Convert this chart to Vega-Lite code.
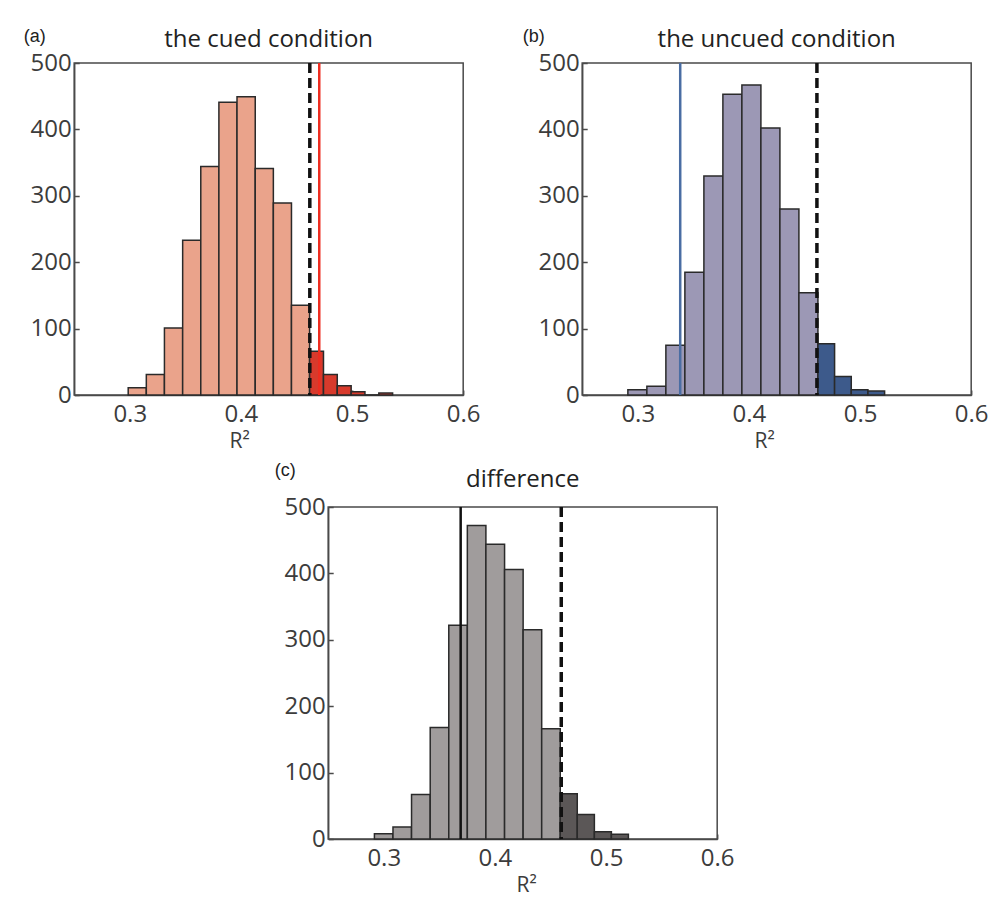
{
  "$schema": "https://vega.github.io/schema/vega-lite/v6.json",
  "background": "white",
  "padding": {"left": 22, "top": 26, "right": 5, "bottom": 5},
  "datasets": {
    "bars": [
      {"panel": "a", "part": "a-main", "lo": 0.2986, "hi": 0.3149, "count": 11},
      {"panel": "a", "part": "a-main", "lo": 0.3149, "hi": 0.3312, "count": 31},
      {"panel": "a", "part": "a-main", "lo": 0.3312, "hi": 0.3476, "count": 101},
      {"panel": "a", "part": "a-main", "lo": 0.3476, "hi": 0.3639, "count": 233},
      {"panel": "a", "part": "a-main", "lo": 0.3639, "hi": 0.3802, "count": 344},
      {"panel": "a", "part": "a-main", "lo": 0.3802, "hi": 0.3965, "count": 441},
      {"panel": "a", "part": "a-main", "lo": 0.3965, "hi": 0.4129, "count": 449},
      {"panel": "a", "part": "a-main", "lo": 0.4129, "hi": 0.4292, "count": 341},
      {"panel": "a", "part": "a-main", "lo": 0.4292, "hi": 0.4455, "count": 289},
      {"panel": "a", "part": "a-main", "lo": 0.4455, "hi": 0.4618, "count": 135},
      {"panel": "a", "part": "a-tail", "lo": 0.4618, "hi": 0.4743, "count": 66},
      {"panel": "a", "part": "a-tail", "lo": 0.4743, "hi": 0.4867, "count": 31},
      {"panel": "a", "part": "a-tail", "lo": 0.4867, "hi": 0.4992, "count": 14},
      {"panel": "a", "part": "a-tail", "lo": 0.4992, "hi": 0.5116, "count": 5},
      {"panel": "a", "part": "a-tail", "lo": 0.5116, "hi": 0.5241, "count": 0},
      {"panel": "a", "part": "a-tail", "lo": 0.5241, "hi": 0.5365, "count": 3},
      {"panel": "b", "part": "b-main", "lo": 0.2911, "hi": 0.3082, "count": 8},
      {"panel": "b", "part": "b-main", "lo": 0.3082, "hi": 0.3253, "count": 13},
      {"panel": "b", "part": "b-main", "lo": 0.3253, "hi": 0.3424, "count": 75},
      {"panel": "b", "part": "b-main", "lo": 0.3424, "hi": 0.3595, "count": 185},
      {"panel": "b", "part": "b-main", "lo": 0.3595, "hi": 0.3766, "count": 330},
      {"panel": "b", "part": "b-main", "lo": 0.3766, "hi": 0.3937, "count": 453},
      {"panel": "b", "part": "b-main", "lo": 0.3937, "hi": 0.4108, "count": 467},
      {"panel": "b", "part": "b-main", "lo": 0.4108, "hi": 0.4279, "count": 402},
      {"panel": "b", "part": "b-main", "lo": 0.4279, "hi": 0.4450, "count": 280},
      {"panel": "b", "part": "b-main", "lo": 0.4450, "hi": 0.4621, "count": 154},
      {"panel": "b", "part": "b-tail", "lo": 0.4621, "hi": 0.4771, "count": 77},
      {"panel": "b", "part": "b-tail", "lo": 0.4771, "hi": 0.4921, "count": 28},
      {"panel": "b", "part": "b-tail", "lo": 0.4921, "hi": 0.5071, "count": 8},
      {"panel": "b", "part": "b-tail", "lo": 0.5071, "hi": 0.5221, "count": 6},
      {"panel": "c", "part": "c-main", "lo": 0.2916, "hi": 0.3083, "count": 8},
      {"panel": "c", "part": "c-main", "lo": 0.3083, "hi": 0.3250, "count": 18},
      {"panel": "c", "part": "c-main", "lo": 0.3250, "hi": 0.3418, "count": 67},
      {"panel": "c", "part": "c-main", "lo": 0.3418, "hi": 0.3585, "count": 168},
      {"panel": "c", "part": "c-main", "lo": 0.3585, "hi": 0.3752, "count": 322},
      {"panel": "c", "part": "c-main", "lo": 0.3752, "hi": 0.3919, "count": 472},
      {"panel": "c", "part": "c-main", "lo": 0.3919, "hi": 0.4087, "count": 444},
      {"panel": "c", "part": "c-main", "lo": 0.4087, "hi": 0.4254, "count": 406},
      {"panel": "c", "part": "c-main", "lo": 0.4254, "hi": 0.4421, "count": 315},
      {"panel": "c", "part": "c-main", "lo": 0.4421, "hi": 0.4588, "count": 166},
      {"panel": "c", "part": "c-tail", "lo": 0.4588, "hi": 0.4741, "count": 68},
      {"panel": "c", "part": "c-tail", "lo": 0.4741, "hi": 0.4895, "count": 37},
      {"panel": "c", "part": "c-tail", "lo": 0.4895, "hi": 0.5048, "count": 11},
      {"panel": "c", "part": "c-tail", "lo": 0.5048, "hi": 0.5201, "count": 7}
    ],
    "lines": [
      {"panel": "a", "kind": "threshold", "r2": 0.462},
      {"panel": "a", "kind": "observed", "r2": 0.4705},
      {"panel": "b", "kind": "threshold", "r2": 0.4612},
      {"panel": "b", "kind": "observed", "r2": 0.3382},
      {"panel": "c", "kind": "threshold", "r2": 0.4597},
      {"panel": "c", "kind": "observed", "r2": 0.3692}
    ]
  },
  "vconcat": [
    {
      "hconcat": [
        {
          "width": 389, "height": 332,
          "title": {"text": "the cued condition"},
          "layer": [
            {
              "data": {"name": "bars"},
              "transform": [{"filter": "datum.panel === 'a'"}],
              "mark": {"type": "bar", "stroke": "#2a2a2a", "strokeWidth": 1.5},
              "encoding": {
                "x": {"field": "lo", "type": "quantitative", "scale": {"domain": [0.25, 0.6], "nice": false, "zero": false}, "axis": {"title": "R²", "values": [0.3, 0.4, 0.5, 0.6], "format": ".1f", "titleX": 165}},
                "x2": {"field": "hi"},
                "y": {"field": "count", "type": "quantitative", "scale": {"domain": [0, 500], "nice": false}, "axis": {"title": "(a)", "values": [0, 100, 200, 300, 400, 500], "titleX": -51, "titleY": -27}},
                "y2": {"datum": 0},
                "color": {"field": "part", "type": "nominal", "legend": null, "scale": {"domain": ["a-main", "a-tail", "b-main", "b-tail", "c-main", "c-tail"], "range": ["#EAA38B", "#D83A2C", "#9C98B5", "#3D5A8B", "#A09C9C", "#5B5757"]}}
              }
            },
            {
              "data": {"name": "lines"},
              "transform": [{"filter": "datum.panel === 'a' && datum.kind === 'threshold'"}],
              "mark": {"type": "rule", "color": "#111111", "strokeWidth": 3.5, "strokeDash": [10, 5]},
              "encoding": {"x": {"field": "r2", "type": "quantitative"}}
            },
            {
              "data": {"name": "lines"},
              "transform": [{"filter": "datum.panel === 'a' && datum.kind === 'observed'"}],
              "mark": {"type": "rule", "color": "#EE2D20", "strokeWidth": 2.5},
              "encoding": {"x": {"field": "r2", "type": "quantitative"}}
            }
          ]
        },
        {
          "width": 389, "height": 332,
          "title": {"text": "the uncued condition"},
          "layer": [
            {
              "data": {"name": "bars"},
              "transform": [{"filter": "datum.panel === 'b'"}],
              "mark": {"type": "bar", "stroke": "#2a2a2a", "strokeWidth": 1.5},
              "encoding": {
                "x": {"field": "lo", "type": "quantitative", "scale": {"domain": [0.25, 0.6], "nice": false, "zero": false}, "axis": {"title": "R²", "values": [0.3, 0.4, 0.5, 0.6], "format": ".1f", "titleX": 182}},
                "x2": {"field": "hi"},
                "y": {"field": "count", "type": "quantitative", "scale": {"domain": [0, 500], "nice": false}, "axis": {"title": "(b)", "values": [0, 100, 200, 300, 400, 500], "titleX": -60, "titleY": -27}},
                "y2": {"datum": 0},
                "color": {"field": "part", "type": "nominal", "legend": null, "scale": {"domain": ["a-main", "a-tail", "b-main", "b-tail", "c-main", "c-tail"], "range": ["#EAA38B", "#D83A2C", "#9C98B5", "#3D5A8B", "#A09C9C", "#5B5757"]}}
              }
            },
            {
              "data": {"name": "lines"},
              "transform": [{"filter": "datum.panel === 'b' && datum.kind === 'threshold'"}],
              "mark": {"type": "rule", "color": "#111111", "strokeWidth": 3.5, "strokeDash": [10, 5]},
              "encoding": {"x": {"field": "r2", "type": "quantitative"}}
            },
            {
              "data": {"name": "lines"},
              "transform": [{"filter": "datum.panel === 'b' && datum.kind === 'observed'"}],
              "mark": {"type": "rule", "color": "#4A6DA3", "strokeWidth": 2.5},
              "encoding": {"x": {"field": "r2", "type": "quantitative"}}
            }
          ]
        }
      ],
      "spacing": 40
    },
    {
      "width": 389, "height": 332,
      "title": {"text": "difference", "offset": -31},
      "layer": [
        {
          "data": {"name": "bars"},
          "transform": [{"filter": "datum.panel === 'c'"}],
          "mark": {"type": "bar", "stroke": "#2a2a2a", "strokeWidth": 1.5},
          "encoding": {
            "x": {"field": "lo", "type": "quantitative", "scale": {"domain": [0.25, 0.6], "nice": false, "zero": false}, "axis": {"title": "R²", "values": [0.3, 0.4, 0.5, 0.6], "format": ".1f", "titleX": 198}},
            "x2": {"field": "hi"},
            "y": {"field": "count", "type": "quantitative", "scale": {"domain": [0, 500], "nice": false}, "axis": {"title": "(c)", "values": [0, 100, 200, 300, 400, 500], "titleX": -54, "titleY": -37}},
            "y2": {"datum": 0},
            "color": {"field": "part", "type": "nominal", "legend": null, "scale": {"domain": ["a-main", "a-tail", "b-main", "b-tail", "c-main", "c-tail"], "range": ["#EAA38B", "#D83A2C", "#9C98B5", "#3D5A8B", "#A09C9C", "#5B5757"]}}
          }
        },
        {
          "data": {"name": "lines"},
          "transform": [{"filter": "datum.panel === 'c' && datum.kind === 'threshold'"}],
          "mark": {"type": "rule", "color": "#111111", "strokeWidth": 3.5, "strokeDash": [10, 5]},
          "encoding": {"x": {"field": "r2", "type": "quantitative"}}
        },
        {
          "data": {"name": "lines"},
          "transform": [{"filter": "datum.panel === 'c' && datum.kind === 'observed'"}],
          "mark": {"type": "rule", "color": "#111111", "strokeWidth": 2.5},
          "encoding": {"x": {"field": "r2", "type": "quantitative"}}
        }
      ]
    }
  ],
  "spacing": 8,
  "center": true,
  "config": {
    "view": {"stroke": "#4a4a4a", "strokeWidth": 1.5},
    "title": {"font": "Open Sans", "fontSize": 24, "fontWeight": "normal", "color": "#222222", "offset": -25},
    "axis": {
      "grid": false,
      "domainColor": "#4a4a4a", "domainWidth": 1.5,
      "tickColor": "#4a4a4a", "tickSize": -5, "tickWidth": 1.5,
      "labelFont": "Open Sans", "labelFontSize": 24, "labelColor": "#3c3c3c", "labelPadding": 8, "labelFlush": false, "labelOverlap": false,
      "titleFont": "Open Sans", "titleFontSize": 21, "titleFontWeight": "normal", "titleColor": "#3c3c3c"
    },
    "axisX": {"titlePadding": 4, "labelPadding": 12},
    "axisY": {"titleFont": "Liberation Sans", "titleFontSize": 18, "titleColor": "#222222", "titleAngle": 0, "titleAlign": "left", "titleBaseline": "middle"}
  }
}
